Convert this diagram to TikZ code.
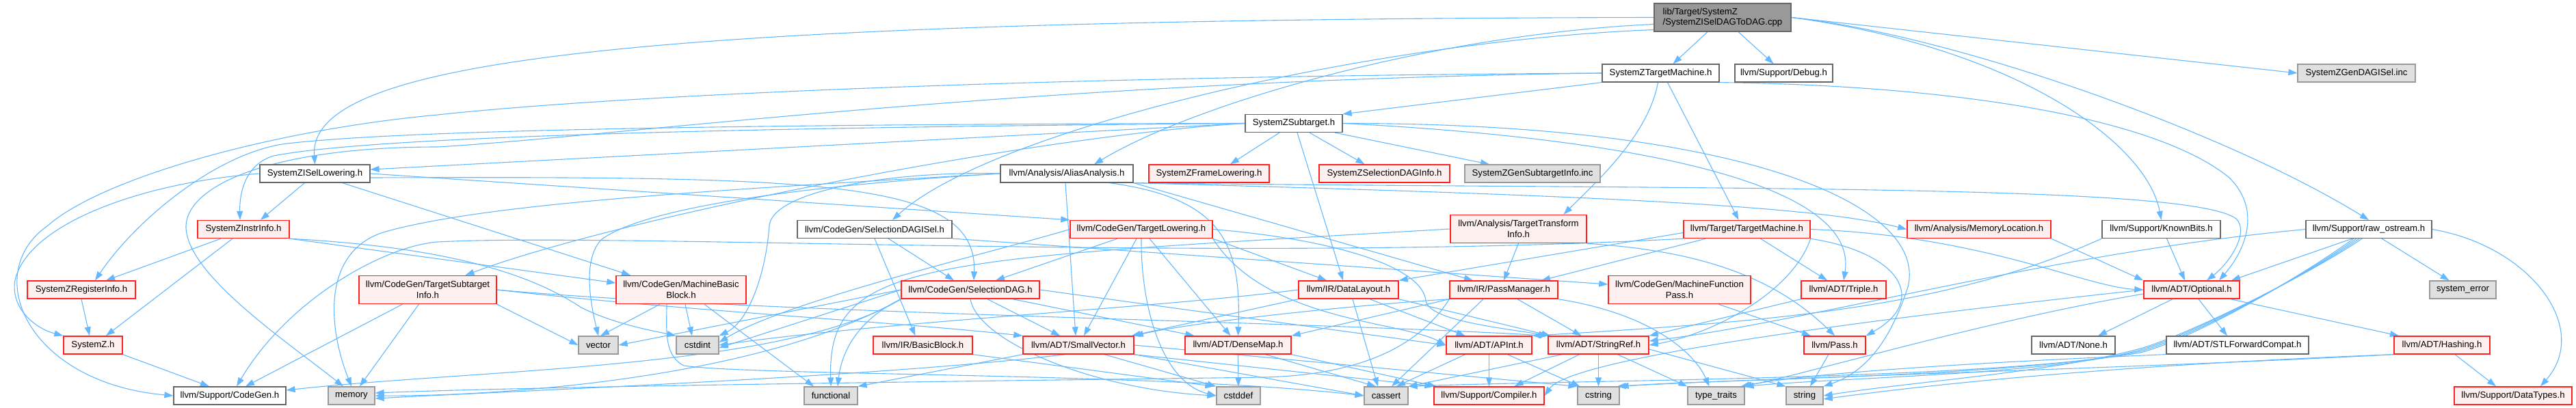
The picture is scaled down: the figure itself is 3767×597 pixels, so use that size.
\documentclass[tikz,border=0pt]{standalone}
\usepackage{fontspec}
\setmainfont{Liberation Sans}
\usetikzlibrary{arrows.meta}
\definecolor{edgec}{HTML}{63B8FF}
\definecolor{bordw}{HTML}{666666}
\definecolor{bordg}{HTML}{999999}
\definecolor{fillg}{HTML}{E0E0E0}
\definecolor{fillr}{HTML}{FFF0F0}
\definecolor{bordr}{HTML}{FF2020}
\definecolor{filltop}{HTML}{999999}
\pgfdeclarelayer{edges}
\pgfsetlayers{edges,main}
\newcommand{\nf}{\fontsize{13.2pt}{15.5pt}\selectfont}
\tikzset{
  nd/.style={rectangle, inner sep=0pt, minimum height=26pt, font=\nf, text=black},
  wn/.style={nd, draw=bordw, fill=white, line width=1.2pt},
  rn/.style={nd, draw=bordr, fill=fillr, line width=1.4pt},
  gn/.style={nd, draw=bordg, fill=fillg, line width=1.2pt},
  tn/.style={nd, draw=bordw, fill=filltop, line width=1.2pt, align=left, minimum height=41pt},
  two/.style={align=center, minimum height=41pt},
  e/.style={draw=edgec, line width=1.1pt, -{Triangle[length=13pt,width=9pt]}},
}
\begin{document}
\begin{tikzpicture}[x=1pt,y=-1pt]
\useasboundingbox (0,0) rectangle (3767,597);
% row 1-2
\node[tn, minimum width=200pt] (top) at (2519,25.5) {lib/Target/SystemZ\\/SystemZISelDAGToDAG.cpp};
\node[wn, minimum width=171pt] (tm) at (2428.5,107) {SystemZTargetMachine.h};
\node[wn, minimum width=143pt] (dbg) at (2608.5,107) {llvm/Support/Debug.h};
\node[gn, minimum width=172pt] (gdi) at (3446,107) {SystemZGenDAGISel.inc};
% row 3-4
\node[wn, minimum width=142pt] (sub) at (1892,180.5) {SystemZSubtarget.h};
\node[wn, minimum width=161pt] (isl) at (460.5,254) {SystemZISelLowering.h};
\node[wn, minimum width=194pt] (aa) at (1560,254) {llvm/Analysis/AliasAnalysis.h};
\node[rn, minimum width=176pt] (fl) at (1768,254) {SystemZFrameLowering.h};
\node[rn, minimum width=191pt] (sdi) at (2024.5,254) {SystemZSelectionDAGInfo.h};
\node[gn, minimum width=198pt] (gsi) at (2241,254) {SystemZGenSubtargetInfo.inc};
% row 5
\node[rn, minimum width=134pt] (ii) at (356,335.5) {SystemZInstrInfo.h};
\node[wn, minimum width=226pt] (sdisel) at (1279,335.5) {llvm/CodeGen/SelectionDAGISel.h};
\node[rn, minimum width=208pt] (tl) at (1669,335.5) {llvm/CodeGen/TargetLowering.h};
\node[rn, two, minimum width=199pt] (tti) at (2220.5,335) {llvm/Analysis/TargetTransform\\Info.h};
\node[rn, minimum width=185pt] (ttm) at (2554.5,335.5) {llvm/Target/TargetMachine.h};
\node[rn, minimum width=210pt] (ml) at (2894,335.5) {llvm/Analysis/MemoryLocation.h};
\node[wn, minimum width=173pt] (kb) at (3160.5,335.5) {llvm/Support/KnownBits.h};
\node[wn, minimum width=184pt] (ros) at (3464,335.5) {llvm/Support/raw\_ostream.h};
% row 6
\node[rn, minimum width=158pt] (ri) at (119,424) {SystemZRegisterInfo.h};
\node[rn, two, minimum width=201pt] (tsi) at (625.5,424) {llvm/CodeGen/TargetSubtarget\\Info.h};
\node[rn, two, minimum width=190pt] (mbb) at (996,424) {llvm/CodeGen/MachineBasic\\Block.h};
\node[rn, minimum width=202pt] (sdag) at (1419,424) {llvm/CodeGen/SelectionDAG.h};
\node[rn, minimum width=146pt] (dl) at (1972,424) {llvm/IR/DataLayout.h};
\node[rn, minimum width=158pt] (pm) at (2199,424) {llvm/IR/PassManager.h};
\node[rn, two, minimum width=208pt] (mfp) at (2456,424) {llvm/CodeGen/MachineFunction\\Pass.h};
\node[rn, minimum width=124pt] (tri) at (2696,424) {llvm/ADT/Triple.h};
\node[rn, minimum width=140pt] (opt) at (3205,424) {llvm/ADT/Optional.h};
\node[gn, minimum width=97pt] (se) at (3601.5,424) {system\_error};
% row 7
\node[rn, minimum width=86pt] (sz) at (136,505) {SystemZ.h};
\node[gn, minimum width=58pt] (vec) at (875,505) {vector};
\node[gn, minimum width=62pt] (cstdint) at (1020,505) {cstdint};
\node[rn, minimum width=145pt] (bb) at (1349.5,505) {llvm/IR/BasicBlock.h};
\node[rn, minimum width=162pt] (sv) at (1577,505) {llvm/ADT/SmallVector.h};
\node[rn, minimum width=155pt] (dm) at (1810.5,505) {llvm/ADT/DenseMap.h};
\node[rn, minimum width=125pt] (apint) at (2177.5,505) {llvm/ADT/APInt.h};
\node[rn, minimum width=147pt] (sr) at (2337.5,505) {llvm/ADT/StringRef.h};
\node[rn, minimum width=90pt] (pass) at (2683,505) {llvm/Pass.h};
\node[wn, minimum width=122pt] (none) at (3032,505) {llvm/ADT/None.h};
\node[wn, minimum width=208pt] (stl) at (3272,505) {llvm/ADT/STLForwardCompat.h};
\node[rn, minimum width=140pt] (hash) at (3571,505) {llvm/ADT/Hashing.h};
% row 8
\node[wn, minimum width=164pt] (cg) at (336,579) {llvm/Support/CodeGen.h};
\node[gn, minimum width=68pt] (mem) at (514,579) {memory};
\node[gn, minimum width=78pt] (func) at (1215,579) {functional};
\node[gn, minimum width=64pt] (cstddef) at (1811,579) {cstddef};
\node[gn, minimum width=64pt] (cassert) at (2027,579) {cassert};
\node[rn, minimum width=161pt] (comp) at (2177.5,579) {llvm/Support/Compiler.h};
\node[gn, minimum width=61pt] (cstring) at (2337.5,579) {cstring};
\node[gn, minimum width=83pt] (tt) at (2509.5,579) {type\_traits};
\node[gn, minimum width=54pt] (str) at (2639,579) {string};
\node[rn, minimum width=172pt] (dt) at (3675,579) {llvm/Support/DataTypes.h};

\begin{pgfonlayer}{edges}
% top
\draw[e] ([xshift=-22pt]top.south) -- ([xshift=18pt]tm.north);
\draw[e] ([xshift=23pt]top.south) -- ([xshift=-15pt]dbg.north);
\draw[e] (top.east) -- (gdi.west);
\draw[e] (top.east) .. controls (2950,70) and (3140,210) .. (kb.north);
\draw[e] (top.east) .. controls (2850,50) and (3250,190) .. (ros.north);
\draw[e] ([yshift=-10pt]top.west) .. controls (2100,50) and (1750,150) .. ([xshift=40pt]aa.north);
\draw[e] ([yshift=-18pt]top.west) .. controls (2000,60) and (1450,190) .. ([xshift=26pt]sdisel.north);
\draw[e] (top.west) .. controls (900,28) and (450,90) .. (isl.north);
% SystemZTargetMachine.h
\draw[e] (tm.south west) -- (sub.north east);
\draw[e] ([xshift=-4pt]tm.south) .. controls (2410,200) and (2330,270) .. ([xshift=66pt]tti.north);
\draw[e] ([xshift=10pt]tm.south) -- ([xshift=-12pt]ttm.north);
\draw[e] (tm.south east) .. controls (2850,125) and (3150,170) .. (3260,260) .. controls (3310,310) and (3280,370) .. ([xshift=40pt]opt.north);
\draw[e] (tm.west) .. controls (1500,112) and (900,140) .. (640,168) .. controls (400,190) and (150,260) .. (70,330) .. controls (-30,400) and (40,560) .. (cg.west);
\draw[e] (tm.west) .. controls (1500,118) and (900,200) .. (640,215) .. controls (400,215) and (275,270) .. (272,330) .. controls (270,400) and (420,500) .. ([xshift=-12pt]mem.north);
% SystemZSubtarget.h
\draw[e] ([xshift=-21pt]sub.south) -- ([xshift=31pt]fl.north);
\draw[e] ([xshift=23pt]sub.south) -- ([xshift=-29pt]sdi.north);
\draw[e] ([xshift=60pt]sub.south) -- ([xshift=-63pt]gsi.north);
\draw[e] ([xshift=5pt]sub.south) -- ([xshift=-8pt]dl.north);
\draw[e] (sub.west) -- ([yshift=6pt]isl.east);
\draw[e] (sub.west) .. controls (900,188) and (520,205) .. (400,228) .. controls (360,240) and (350,280) .. ([xshift=-5pt]ii.north);
\draw[e] (sub.west) .. controls (900,182) and (550,195) .. (420,210) .. controls (320,222) and (200,320) .. ([xshift=20pt]ri.north);
\draw[e] (sub.west) .. controls (1500,200) and (900,320) .. ([xshift=55pt]tsi.north);
\draw[e] (sub.east) .. controls (2350,200) and (2720,260) .. (tri.north);
\draw[e] (sub.east) .. controls (2550,180) and (2820,300) .. (2790,420) .. controls (2770,480) and (2740,540) .. (str.north east);
% SystemZISelLowering.h
\draw[e] (isl.west) .. controls (200,268) and (40,330) .. (22,410) .. controls (15,450) and (50,480) .. (sz.north west);
\draw[e] ([xshift=-15pt]isl.south) -- ([xshift=25pt]ii.north);
\draw[e] ([xshift=40pt]isl.south) -- ([xshift=-74pt]mbb.north);
\draw[e] (isl.east) -- (tl.north west);
\draw[e] ([yshift=-6pt]isl.east) .. controls (1200,258) and (1430,262) .. ([xshift=5pt]sdag.north);
% SystemZInstrInfo.h
\draw[e] ([xshift=-33pt]ii.south) -- ([xshift=36pt]ri.north);
\draw[e] ([xshift=-16pt]ii.south) -- ([xshift=19pt]sz.north);
\draw[e] (ii.south east) -- ([yshift=10pt]mbb.west);
\draw[e] (ii.south east) .. controls (620,360) and (760,390) .. (850,450) .. controls (900,475) and (960,485) .. (cstdint.north west);
\draw[e] (ri.south) -- ([xshift=-5pt]sz.north);
\draw[e] (sz.south east) -- ([xshift=-30pt]cg.north);
% TargetSubtargetInfo
\draw[e] ([xshift=-37pt]tsi.south) -- ([xshift=23pt]cg.north);
\draw[e] ([xshift=-13pt]tsi.south) -- ([xshift=12pt]mem.north);
\draw[e] (tsi.south east) -- (vec.west);
\draw[e] (tsi.east) .. controls (1000,455) and (1300,470) .. (sv.north west);
\draw[e] (tsi.east) .. controls (1100,458) and (1900,470) .. (sr.north west);
% MachineBasicBlock
\draw[e] ([xshift=-31pt]mbb.south) -- ([xshift=3pt]vec.north);
\draw[e] ([xshift=6pt]mbb.south) -- ([xshift=-8pt]cstdint.north);
\draw[e] ([xshift=-21pt]mbb.south) .. controls (975,480) and (970,520) .. (1000,535) .. controls (1100,550) and (1700,545) .. (cassert.west);
\draw[e] ([xshift=34pt]mbb.south) -- ([xshift=-25pt]func.north);
% SelectionDAGISel
\draw[e] ([xshift=20pt]sdisel.south) -- ([xshift=-24pt]sdag.north);
\draw[e] (sdisel.south) -- ([xshift=-11pt]bb.north);
\draw[e] (sdisel.south east) -- ([yshift=8pt]mfp.west);
% AliasAnalysis
\draw[e] ([xshift=-2pt]aa.south) -- ([xshift=-4pt]sv.north);
\draw[e] ([xshift=62pt]aa.south) .. controls (1790,290) and (1815,360) .. (dm.north);
\draw[e] (aa.south east) .. controls (2300,285) and (2650,300) .. (ml.west);
\draw[e] (aa.south east) .. controls (2500,278) and (3200,268) .. (3270,320) .. controls (3290,340) and (3260,385) .. ([xshift=22pt]opt.north);
\draw[e] (aa.south east) -- ([xshift=-45pt]pm.north);
\draw[e] (aa.west) .. controls (1300,250) and (1130,280) .. (1125,330) .. controls (1120,400) and (1095,470) .. (cstdint.north east);
\draw[e] (aa.west) .. controls (1200,270) and (950,300) .. (880,350) .. controls (850,380) and (865,450) .. (vec.north);
\draw[e] (aa.west) .. controls (1000,280) and (700,300) .. (560,340) .. controls (470,370) and (480,480) .. (mem.north);
% TargetLowering
\draw[e] ([xshift=-35pt]tl.south) -- ([xshift=37pt]sdag.north);
\draw[e] ([xshift=-7pt]tl.south) -- ([xshift=8pt]sv.north);
\draw[e] ([xshift=12pt]tl.south) -- ([xshift=-11pt]dm.north);
\draw[e] (tl.south) .. controls (1668,450) and (1700,560) .. (cstddef.west);
\draw[e] (tl.south east) .. controls (1850,470) and (2050,470) .. (apint.west);
\draw[e] (tl.east) .. controls (1950,350) and (2080,390) .. (2085,440) .. controls (2090,470) and (2200,480) .. (sr.north west);
\draw[e] (tl.west) .. controls (1450,370) and (1150,440) .. ([yshift=4pt]cstdint.east);
\draw[e] (tl.south east) -- ([xshift=-32pt]dl.north);
% TargetTransformInfo
\draw[e] (tti.south) -- (pm.north);
\draw[e] (tti.south east) .. controls (2450,365) and (2580,390) .. (pass.north);
\draw[e] (tti.west) .. controls (1350,380) and (1210,380) .. (func.north);
% Target/TargetMachine
\draw[e] ([xshift=20pt]ttm.south) -- ([xshift=-24pt]tri.north);
\draw[e] (ttm.south east) .. controls (2780,370) and (2820,440) .. (pass.north east);
\draw[e] ([yshift=-5pt]ttm.west) -- (dl.north east);
\draw[e] ([xshift=-60pt]ttm.south) -- ([xshift=55pt]pm.north);
\draw[e] (ttm.east) .. controls (2900,345) and (3050,420) .. (opt.west);
\draw[e] (ttm.south east) .. controls (2620,430) and (2500,490) .. (sr.east);
\draw[e] (ttm.south west) .. controls (1800,385) and (900,340) .. (640,354) .. controls (560,360) and (420,440) .. ([xshift=10pt]cg.north);
% misc row 5
\draw[e] ([xshift=57pt]mfp.south) -- ([xshift=-35pt]pass.north);
\draw[e] (ml.south east) -- (opt.north west);
\draw[e] ([xshift=8pt]kb.south) -- ([xshift=-10pt]opt.north);
\draw[e] (kb.south west) .. controls (2850,450) and (2600,470) .. (apint.north east);
% raw_ostream
\draw[e] ([xshift=-24pt]ros.south) -- ([xshift=58pt]opt.north);
\draw[e] ([xshift=19pt]ros.south) -- ([xshift=-20pt]se.north);
\draw[e] (ros.east) .. controls (3700,360) and (3790,480) .. ([xshift=40pt]dt.north);
\draw[e] (ros.west) .. controls (3000,370) and (2650,470) .. ([yshift=6pt]sr.east);
\draw[e] ([xshift=-10pt]ros.south) .. controls (3380,400) and (3200,490) .. (3130,510) .. controls (3000,545) and (2800,558) .. (str.east);
\draw[e] ([xshift=-14pt]ros.south) .. controls (3370,405) and (3200,492) .. (3130,512) .. controls (3000,548) and (2700,552) .. (tt.north east);
\draw[e] ([xshift=-18pt]ros.south) .. controls (3360,410) and (3200,495) .. (3130,514) .. controls (2950,552) and (2500,555) .. (cstring.north east);
\draw[e] ([xshift=-22pt]ros.south) .. controls (3350,415) and (3200,498) .. (3130,516) .. controls (2900,556) and (2300,556) .. (cassert.north east);
% Optional
\draw[e] ([xshift=10pt]opt.south) -- ([xshift=-15pt]stl.north);
\draw[e] ([xshift=57pt]opt.south) -- ([xshift=-63pt]hash.north);
\draw[e] ([xshift=-28pt]opt.south) -- ([xshift=36pt]none.north);
\draw[e] (opt.west) .. controls (2800,460) and (2300,520) .. (comp.east);
\draw[e] ([yshift=-6pt]opt.west) .. controls (2900,470) and (2650,545) .. ([xshift=-3pt]tt.north east);
% Hashing / STLForwardCompat
\draw[e] ([xshift=19pt]hash.south) -- ([xshift=-25pt]dt.north);
\draw[e] (hash.south west) .. controls (3200,530) and (2900,552) .. ([yshift=-5pt]str.east);
\draw[e] (hash.south west) .. controls (3100,540) and (2600,552) .. ([xshift=-4pt]cstring.north east);
\draw[e] (stl.south west) .. controls (2900,530) and (2650,545) .. ([xshift=-6pt]tt.north east);
% SmallVector
\draw[e] (sv.south west) -- (func.north east);
\draw[e] ([xshift=38pt]sv.south) -- (cstddef.north west);
\draw[e] ([xshift=-20pt]sv.south) .. controls (1300,550) and (800,570) .. ([yshift=-4pt]mem.east);
\draw[e] (sv.south east) -- (cassert.west);
\draw[e] (sv.south east) -- (comp.north west);
\draw[e] (sv.east) -- (cstring.north west);
% DenseMap
\draw[e] (dm.south) -- (cstddef.north);
\draw[e] ([xshift=40pt]dm.south) -- ([xshift=-15pt]cassert.north);
\draw[e] (dm.south east) -- ([xshift=4pt]comp.north west);
% APInt
\draw[e] (apint.south) -- (comp.north);
\draw[e] ([xshift=-35pt]apint.south) -- ([xshift=15pt]cassert.north);
\draw[e] ([xshift=27pt]apint.south) -- ([xshift=4pt]cstring.north west);
% StringRef
\draw[e] (sr.south) -- (cstring.north);
\draw[e] ([xshift=-28pt]sr.south) -- ([xshift=37pt]comp.north);
\draw[e] ([xshift=28pt]sr.south) -- (tt.north west);
\draw[e] ([xshift=-53pt]sr.south) -- (cassert.north east);
\draw[e] ([yshift=-6pt]sr.east) -- (str.north west);
\draw[e] ([xshift=-9pt]pass.south) -- ([xshift=8pt]str.north);
\draw[e] (tri.south west) -- (sr.north east);
% PassManager
\draw[e] ([xshift=-30pt]pm.south) -- ([xshift=8pt]cassert.north);
\draw[e] ([xshift=20pt]pm.south) -- ([xshift=-25pt]sr.north);
\draw[e] (pm.south east) .. controls (2420,460) and (2480,520) .. ([xshift=-10pt]tt.north);
\draw[e] (pm.south west) -- (dm.north east);
\draw[e] (pm.south west) .. controls (2000,445) and (1750,470) .. (sv.north east);
\draw[e] (pm.south west) .. controls (2080,500) and (2000,548) .. (1850,552) .. controls (1400,558) and (800,565) .. ([yshift=4pt]mem.east);
% DataLayout
\draw[e] ([xshift=6pt]dl.south) -- ([xshift=-12pt]cassert.north);
\draw[e] ([xshift=31pt]dl.south) -- ([xshift=-35pt]apint.north);
\draw[e] (dl.south east) -- ([xshift=4pt]sr.north west);
\draw[e] (dl.south west) -- ([xshift=-4pt]sv.north east);
\draw[e] (dl.west) .. controls (1700,450) and (1300,470) .. (cstdint.east);
% SelectionDAG
\draw[e] ([xshift=25pt]sdag.south) -- ([xshift=-27pt]sv.north);
\draw[e] ([xshift=62pt]sdag.south) -- ([xshift=-64pt]dm.north);
\draw[e] (sdag.south west) .. controls (1150,540) and (700,540) .. ([yshift=8pt]cg.east);
\draw[e] (sdag.south west) .. controls (1100,560) and (700,580) .. (mem.east);
\draw[e] (sdag.west) -- ([yshift=-4pt]cstdint.east);
\draw[e] (sdag.west) -- (vec.east);
\draw[e] (sdag.south west) .. controls (1250,470) and (1230,520) .. ([xshift=10pt]func.north);
\draw[e] (sdag.south) .. controls (1430,500) and (1600,570) .. (cstddef.west);
\draw[e] (sdag.east) -- (apint.west);
% BasicBlock
\draw[e] (bb.south east) -- ([xshift=-3pt]cstddef.north west);
\end{pgfonlayer}
\end{tikzpicture}
\end{document}
